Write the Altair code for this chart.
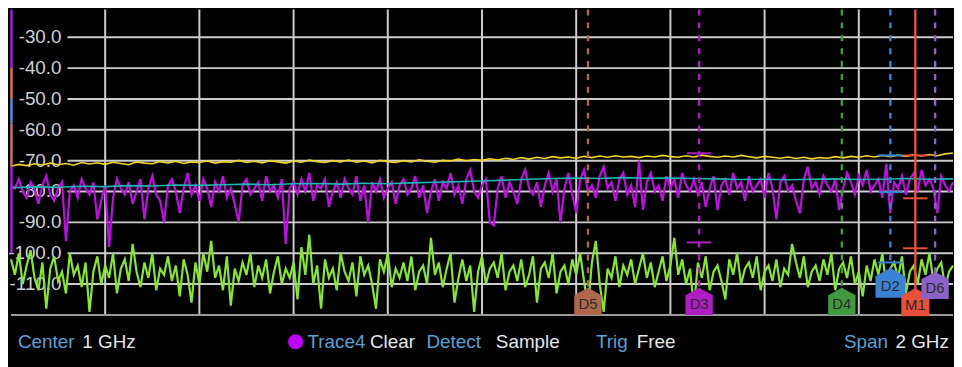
import altair as alt
import pandas as pd

span_ghz = 2.0

yellow_db = [-71.8,-71.2,-71.6,-71.0,-71.4,-70.8,-71.3,-70.9,-71.5,-70.6,-71.1,-70.7,-71.2,-70.5,-70.9,-71.3,-70.4,-70.8,-71.0,-70.3,
             -70.7,-70.2,-70.9,-70.4,-70.6,-70.1,-70.8,-70.3,-70.5,-69.9,-70.6,-70.2,-70.7,-70.0,-70.4,-70.8,-70.1,-70.5,-69.8,-70.3,
             -70.6,-70.0,-70.4,-69.8,-70.5,-70.1,-70.7,-69.9,-70.3,-70.6,-70.0,-70.4,-69.7,-70.2,-70.5,-69.9,-70.1,-69.5,-70.0,-69.6,
             -69.9,-69.4,-69.8,-69.2,-69.6,-69.0,-69.5,-68.9,-69.3,-68.7,-69.1,-68.8,-69.2,-68.6,-69.0,-68.5,-68.9,-68.4,-68.8,-68.6,
             -69.0,-68.5,-68.8,-68.3,-68.7,-68.9,-68.4,-68.8,-68.2,-68.6,-68.9,-68.5,-68.8,-68.3,-68.7,-69.1,-68.6,-68.9,-69.2,-68.8,
             -69.3,-68.9,-69.4,-69.0,-69.2,-68.7,-69.1,-68.6,-68.9,-68.4,-68.8,-68.3,-68.7,-68.2,-68.6,-68.1,-68.5,-68.0,-68.4,-67.8,
             -67.5]

cyan_db = [-78.8,-78.5,-78.6,-78.3,-78.4,-78.1,-78.2,-77.9,-78.0,-77.8,-77.6,-77.8,-77.5,-77.4,-77.6,-77.3,-77.5,-77.2,-77.0,-76.8,
           -76.6,-76.3,-76.0,-75.8,-75.6,-75.8,-75.5,-75.7,-75.6,-75.8,-75.9,-76.1,-76.0,-76.2,-76.0,-75.9,-76.1,-76.0,-75.8,-76.0,
           -75.9]

purple_db = [-78,-79,-76,-80,-82,-77,-79,-84,-78,-75,-81,-83,-79,-77,-96,-80,-78,-82,-76,-79,
             -81,-77,-89,-83,-78,-98,-82,-76,-79,-81,-77,-84,-80,-76,-89,-79,-75,-81,-83,-90,
             -78,-76,-80,-87,-79,-74,-81,-78,-83,-76,-79,-85,-77,-80,-75,-82,-79,-84,-90,-78,
             -76,-81,-79,-77,-83,-75,-80,-78,-82,-76,-97,-79,-77,-81,-76,-80,-74,-83,-78,-79,
             -76,-85,-80,-77,-82,-76,-79,-81,-75,-83,-78,-90,-77,-80,-76,-82,-79,-77,-84,-78,
             -76,-81,-79,-75,-82,-78,-87,-80,-76,-83,-77,-79,-74,-81,-78,-84,-76,-73,-80,-82,
             -78,-76,-90,-91,-79,-75,-82,-77,-80,-84,-76,-73,-79,-81,-77,-85,-78,-74,-80,-76,
             -90,-79,-74,-81,-87,-76,-73,-80,-78,-82,-75,-72,-79,-77,-83,-76,-74,-81,-78,-85,
             -70,-86,-77,-74,-80,-78,-83,-75,-79,-76,-82,-74,-78,-80,-76,-81,-77,-85,-79,-75,
             -86,-78,-76,-81,-74,-79,-77,-83,-75,-80,-78,-76,-82,-74,-79,-89,-77,-75,-80,-78,
             -83,-87,-76,-72,-79,-77,-81,-75,-78,-80,-76,-86,-79,-74,-77,-81,-75,-78,-73,-80,
             -78,-76,-82,-71,-87,-77,-79,-75,-81,-76,-74,-80,-73,-78,-76,-79,-87,-75,-78,-80,
             -77]

green_db = [-102,-107,-100,-110,-104,-99,-108,-112,-103,-118,-105,-101,-109,-106,-113,-100,-107,-104,-111,-103,
            -119,-106,-101,-110,-104,-108,-100,-113,-105,-102,-109,-97,-106,-111,-103,-108,-100,-112,-105,-107,
            -101,-109,-104,-114,-102,-107,-116,-103,-110,-100,-106,-96,-108,-104,-112,-101,-117,-105,-109,-103,
            -107,-100,-111,-104,-108,-102,-113,-106,-101,-110,-105,-108,-103,-115,-98,-107,-94,-110,-104,-118,
            -102,-108,-105,-112,-100,-106,-109,-103,-114,-101,-107,-104,-110,-118,-102,-106,-100,-111,-105,-108,
            -103,-109,-101,-112,-106,-104,-110,-95,-107,-103,-111,-105,-100,-116,-108,-102,-109,-104,-119,-106,
            -101,-110,-105,-103,-108,-100,-112,-106,-104,-109,-102,-111,-107,-101,-116,-105,-103,-108,-100,-113,
            -106,-104,-110,-102,-107,-100,-109,-118,-103,-96,-110,-119,-105,-108,-101,-111,-104,-107,-102,-110,
            -105,-100,-108,-103,-111,-106,-101,-109,-104,-95,-107,-102,-110,-105,-118,-103,-108,-101,-112,-106,
            -104,-109,-115,-102,-107,-100,-110,-105,-103,-108,-101,-112,-106,-104,-109,-102,-111,-105,-107,-97,
            -103,-108,-101,-111,-106,-104,-109,-102,-107,-100,-112,-105,-103,-108,-101,-110,-106,-114,-104,-109,
            -102,-107,-100,-111,-105,-103,-108,-101,-113,-106,-104,-110,-102,-107,-100,-109,-105,-103,-111,-106,
            -104]

grid_db = [-30, -40, -50, -60, -70, -80, -90, -100, -110]
vgrid_ghz = [0.2, 0.4, 0.6, 0.8, 1.0, 1.2, 1.4, 1.6, 1.8]

marker_names = ["D5", "D3", "D4", "D2", "M1", "D6"]
marker_ghz = [1.225, 1.461, 1.764, 1.867, 1.920, 1.962]
marker_colors = ["#b0684c", "#b01cc4", "#3f9a3f", "#3a82d4", "#e8503a", "#8a62c8"]
delta_marker = ["M1", "M1", "M1", "D2", "D2", "D2", "D3", "D3"]
delta_db = [-68.3, -82.2, -98.4, -68.3, -80.2, -103.0, -67.6, -96.5]

# left-edge level indicator strip (from, to, colour)
strip_from = [-21, -40, -50, -58, -72]
strip_to = [-40, -50, -58, -72, -100]
strip_colors = ["#a020d0", "#e07840", "#5090e0", "#d07070", "#a020d0"]

status_text = ["Center", "1 GHz", "Trace4", "Clear", "Detect", "Sample", "Trig", "Free", "Span", "2 GHz"]

# ---------------- tables ----------------
def trace_df(vals, name):
    n = len(vals)
    return pd.DataFrame({"f": [i * span_ghz / (n - 1) for i in range(n)], "db": vals, "trace": name})

W, H = 950, 308
TOP_DB, BOT_DB = -21, -120
xs = alt.Scale(domain=[0, span_ghz], nice=False, zero=False)
ys = alt.Scale(domain=[BOT_DB, TOP_DB], nice=False, zero=False)

hg = pd.DataFrame({"db": grid_db, "lab": [f"{v:.1f}" for v in grid_db]})
vg = pd.DataFrame({"f": vgrid_ghz})

badge_y = {"D5": -115.6, "D3": -115.6, "D4": -115.6, "D2": -109.6, "M1": -115.9, "D6": -110.4}
badge_size = {"D5": 760, "D3": 760, "D4": 760, "D2": 900, "M1": 800, "D6": 760}
mk = pd.DataFrame({"name": marker_names, "f": marker_ghz, "col": marker_colors})
mk["by"] = mk["name"].map(badge_y)
mk["sz"] = mk["name"].map(badge_size)
mk["top"] = TOP_DB

dl = pd.DataFrame({"name": delta_marker, "db": delta_db})
dl = dl.merge(mk[["name", "f", "col"]], on="name")
dl["f1"] = dl["f"] - 0.026
dl["f2"] = dl["f"] + 0.026

sp = pd.DataFrame({"a": strip_from, "b": strip_to, "col": strip_colors})

status_x = [7, 72, 299, 362, 419, 489, 590, 631, 840, 892]
status_col = ["#5aa0d6", "#e6e6e6"] * 5
st = pd.DataFrame({"t": status_text, "px": status_x, "col": status_col})

X = alt.X("f:Q", scale=xs, axis=None)
Y = alt.Y("db:Q", scale=ys, axis=None)
GRID = "#cccccc"

vgrid = alt.Chart(vg).mark_rule(color=GRID, strokeWidth=2).encode(x=X, y=alt.value(0), y2=alt.value(H))
hgrid = alt.Chart(hg).mark_rule(color=GRID, strokeWidth=2).encode(x=alt.value(57), x2=alt.value(W), y=Y)
bottom = alt.Chart(pd.DataFrame({"db": [BOT_DB]})).mark_rule(color="#9a9a9a", strokeWidth=2).encode(
    x=alt.value(0), x2=alt.value(W), y=Y)
ylab = alt.Chart(hg).mark_text(align="right", baseline="middle", fontSize=19, color="#d0d0d0",
                               font="Liberation Sans Narrow, Arial Narrow, Liberation Sans").encode(
    x=alt.value(51), y=Y, text="lab:N")

mcol = alt.Color("col:N", scale=None, legend=None)
strip = alt.Chart(sp).mark_rule(strokeWidth=2.5).encode(
    x=alt.value(0.5), y=alt.Y("a:Q", scale=ys, axis=None), y2="b:Q", color=mcol)

def line(vals, name, color, w):
    return alt.Chart(trace_df(vals, name)).mark_line(color=color, strokeWidth=w).encode(x=X, y=Y)

green = line(green_db, "Trace3", "#86e82c", 2.2)
purple = line(purple_db, "Trace4", "#c20ee6", 2.2)
cyan = line(cyan_db, "Trace2", "#22b4b8", 1.6)
yellow = line(yellow_db, "Trace1", "#f2d424", 1.6)

YT = alt.Y("top:Q", scale=ys, axis=None)
dashed = alt.Chart(mk).transform_filter(alt.datum.name != "M1").mark_rule(strokeDash=[6, 7], strokeWidth=2.4).encode(
    x=X, y=YT, y2="by:Q", color=mcol)
solid = alt.Chart(mk).transform_filter(alt.datum.name == "M1").mark_rule(strokeWidth=2.4).encode(
    x=X, y=YT, y2="by:Q", color=mcol)
deltas = alt.Chart(dl).mark_rule(strokeWidth=2).encode(
    x=alt.X("f1:Q", scale=xs, axis=None), x2="f2:Q", y=Y, color=mcol)

badge_path = "M-1,1L-1,-0.45L0,-1L1,-0.45L1,1Z"
badges = alt.Chart(mk).mark_point(shape=badge_path, filled=True, opacity=1).encode(
    x=X, y=alt.Y("by:Q", scale=ys, axis=None), color=mcol, size=alt.Size("sz:Q", scale=None, legend=None))
badge_txt = alt.Chart(mk).mark_text(fontSize=15, color="#2a2a2a", dy=3,
                                    font="Liberation Sans Narrow, Liberation Sans").encode(
    x=X, y=alt.Y("by:Q", scale=ys, axis=None), text="name:N")

status = alt.Chart(st).mark_text(align="left", baseline="middle", fontSize=19, font="Liberation Sans").encode(
    x=alt.X("px:Q", scale=None), y=alt.value(335), text="t:N", color=mcol)
dot = alt.Chart(pd.DataFrame({"t": ["Trace4"]})).mark_circle(color="#c000ff", size=230, opacity=1).encode(
    x=alt.value(287), y=alt.value(335))

chart = alt.layer(
    vgrid, hgrid, bottom, ylab, green, purple, cyan, yellow, strip,
    dashed, solid, deltas, badges, badge_txt, status, dot
).properties(
    width=W, height=H, background="black",
    autosize=alt.AutoSizeParams(type="none"),
    padding={"left": 3, "top": 0, "right": 1, "bottom": 51},
).configure_view(stroke=None)

chart.save("out.html", embed_options={"renderer": "svg", "actions": False})
